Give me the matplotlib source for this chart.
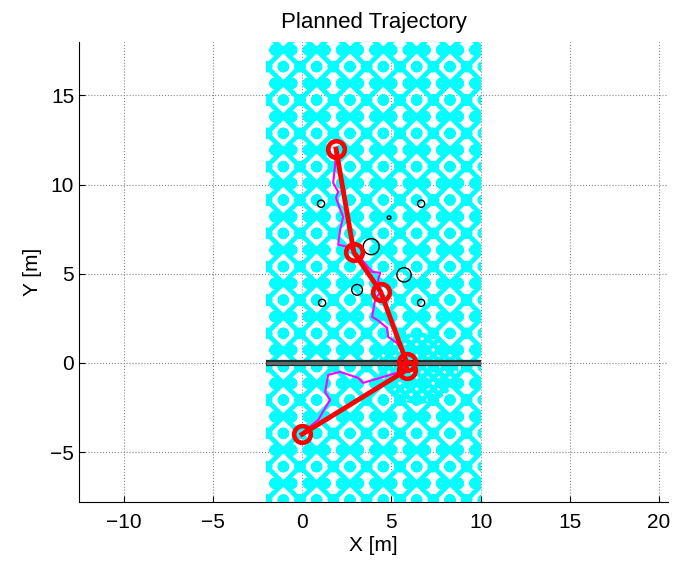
import numpy as np
import matplotlib.pyplot as plt
from matplotlib.patches import Rectangle, Circle, Ellipse

plt.rcParams['font.family'] = ['Liberation Sans', 'DejaVu Sans']
plt.rcParams['hatch.linewidth'] = 3.5

# planned path (red) and raw tree path (magenta)
path_x = [1.9, 2.9, 4.4, 5.85, 5.85, 0.0]
path_y = [12.0, 6.2, 4.0, 0.05, -0.4, -4.0]

raw_x = [1.9, 1.85, 1.74, 2.02, 1.9, 2.18, 2.3, 2.13, 2.02, 2.52, 2.86, 3.92, 4.37, 4.26,
         4.37, 4.09, 3.92, 4.2, 4.76, 4.82, 5.32, 5.66, 5.83, 5.5, 3.42, 3.14, 2.13, 1.46,
         1.29, 1.57, 1.29, 0.9, 0.06]
raw_y = [11.8, 11.1, 10.1, 9.6, 9.27, 8.48, 8.2, 7.47, 6.63, 6.52, 6.35, 5.11, 5.06, 4.66,
         3.99, 3.54, 2.58, 2.42, 1.97, 1.46, 1.12, 0.56, 0.06, -0.5, -1.12, -0.84, -0.5, -0.67,
         -1.63, -2.08, -2.53, -3.2, -3.88]

# obstacles
obs_x = [1.06, 6.67, 4.87, 3.87, 5.71, 3.08, 1.12, 6.67]
obs_y = [8.93, 8.93, 8.15, 6.52, 4.94, 4.1, 3.37, 3.37]
obs_r = [0.2, 0.2, 0.1, 0.45, 0.4, 0.3, 0.2, 0.2]

# sampled workspace and wall
region_x = [-2, 10]
region_y = [-8, 18]
wall_x = [-2, 10]
wall_y = [0, 0]

fig = plt.figure(figsize=(6.81, 5.63), dpi=100)
ax = fig.add_axes([79 / 681, 61 / 563, 589 / 681, 460 / 563])

# tree texture (stand-in for the dense RRT edges)
w = region_x[1] - region_x[0]
h = region_y[1] - region_y[0]
ax.add_patch(Rectangle((region_x[0], region_y[0]), w, h, facecolor='none',
                       edgecolor='cyan', lw=0, hatch='x', zorder=1))
ax.add_patch(Rectangle((region_x[0], region_y[0]), w, h, facecolor='none',
                       edgecolor='cyan', lw=0, hatch='o', zorder=1))
ax.add_patch(Ellipse((6.5, -0.3), 4.5, 4.0, facecolor='none', edgecolor='cyan',
                     lw=0, hatch='xxx', zorder=1))

ax.plot(wall_x, wall_y, color='#123030', lw=4.5, solid_capstyle='butt', zorder=2)
ax.plot(wall_x, wall_y, color='#5e6868', lw=2.2, solid_capstyle='butt', zorder=2)

for cx, cy, r in zip(obs_x, obs_y, obs_r):
    ax.add_patch(Circle((cx, cy), r, facecolor='none', edgecolor='black', lw=1.0, zorder=3))

ax.plot(raw_x, raw_y, color='magenta', lw=1.5, zorder=4)
ax.plot(path_x, path_y, color='red', lw=3.5, marker='o', markersize=12,
        markerfacecolor='none', markeredgewidth=3.3, zorder=5)

ax.set_xlim(-12.5, 20.5)
ax.set_ylim(-7.8, 18.0)
ax.set_xticks([-10, -5, 0, 5, 10, 15, 20])
ax.set_yticks([-5, 0, 5, 10, 15])
ax.grid(True, linestyle=':', color='#888888', lw=0.8)
ax.set_axisbelow(True)
for s in ['top', 'right']:
    ax.spines[s].set_visible(False)
ax.tick_params(labelsize=15, direction='in', length=4)
ax.tick_params(axis='x', pad=8)
ax.set_xlabel('X [m]', fontsize=15, labelpad=3)
ax.set_ylabel('Y [m]', fontsize=15, labelpad=6)
ax.set_title('Planned Trajectory', fontsize=16, pad=10)

fig.savefig('out.png', dpi=100)
